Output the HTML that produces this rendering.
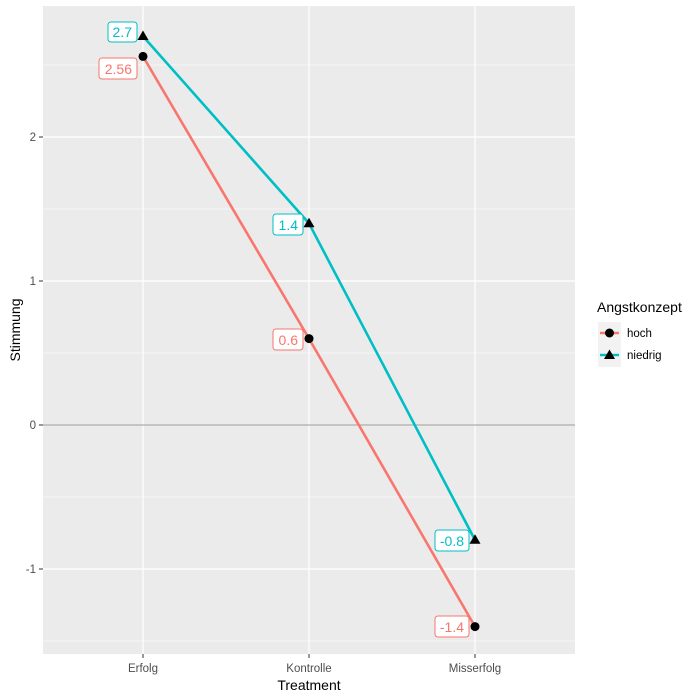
<!DOCTYPE html>
<html><head><style>body{margin:0;background:#fff}svg{display:block}</style></head><body>
<svg width="700" height="700" xmlns="http://www.w3.org/2000/svg" font-family="Liberation Sans, sans-serif">
<rect x="43" y="6" width="532" height="648" fill="#EBEBEB"/>
<g stroke="#fff" stroke-width="0.6">
<line x1="43" x2="575" y1="65" y2="65"/><line x1="43" x2="575" y1="209" y2="209"/><line x1="43" x2="575" y1="353" y2="353"/><line x1="43" x2="575" y1="497" y2="497"/><line x1="43" x2="575" y1="641" y2="641"/>
</g>
<g stroke="#fff" stroke-width="1.2">
<line x1="43" x2="575" y1="137" y2="137"/><line x1="43" x2="575" y1="281" y2="281"/><line x1="43" x2="575" y1="425" y2="425"/><line x1="43" x2="575" y1="569" y2="569"/>
<line y1="6" y2="654" x1="143" x2="143"/><line y1="6" y2="654" x1="309" x2="309"/><line y1="6" y2="654" x1="475" x2="475"/>
</g>
<line x1="43" x2="575" y1="425" y2="425" stroke="#999" stroke-width="1"/>
<polyline points="143,56.4 309,338.6 475,626.6" fill="none" stroke="#F8766D" stroke-width="2.6"/>
<polyline points="143,36.2 309,223.4 475,540" fill="none" stroke="#00BFC4" stroke-width="2.6"/>
<circle cx="143" cy="56.4" r="4.5"/><circle cx="309" cy="338.6" r="4.5"/><circle cx="475" cy="626.6" r="4.5"/>
<polygon points="143,30.5 137.5,40 148.5,40"/><polygon points="309,217.7 303.5,227.2 314.5,227.2"/><polygon points="475,534.3 469.5,543.8 480.5,543.8"/>
<g font-size="14" text-anchor="end">
<rect x="108" y="22" width="29" height="20" rx="3" fill="#fff" stroke="#00BFC4"/><text x="132" y="37" fill="#00BFC4">2.7</text>
<rect x="99" y="58" width="38" height="21" rx="3" fill="#fff" stroke="#F8766D"/><text x="132" y="74" fill="#F8766D">2.56</text>
<rect x="273" y="214" width="30" height="21" rx="3" fill="#fff" stroke="#00BFC4"/><text x="298" y="230" fill="#00BFC4">1.4</text>
<rect x="273" y="329" width="30" height="21" rx="3" fill="#fff" stroke="#F8766D"/><text x="298" y="345" fill="#F8766D">0.6</text>
<rect x="435" y="530" width="34" height="21" rx="3" fill="#fff" stroke="#00BFC4"/><text x="464" y="546" fill="#00BFC4">-0.8</text>
<rect x="435" y="616" width="34" height="21" rx="3" fill="#fff" stroke="#F8766D"/><text x="464" y="632" fill="#F8766D">-1.4</text>
</g>
<g font-size="11.5" fill="#4D4D4D" text-anchor="end">
<text x="36" y="141">2</text><text x="36" y="285">1</text><text x="36" y="429">0</text><text x="36" y="573">-1</text>
</g>
<g stroke="#333"><line x1="39" x2="43" y1="137" y2="137"/><line x1="39" x2="43" y1="281" y2="281"/><line x1="39" x2="43" y1="425" y2="425"/><line x1="39" x2="43" y1="569" y2="569"/>
<line x1="143" x2="143" y1="654" y2="658"/><line x1="309" x2="309" y1="654" y2="658"/><line x1="475" x2="475" y1="654" y2="658"/></g>
<g font-size="11.5" fill="#4D4D4D" text-anchor="middle">
<text x="143" y="672">Erfolg</text><text x="309" y="672">Kontrolle</text><text x="475" y="672">Misserfolg</text>
</g>
<text x="309" y="690" font-size="14" text-anchor="middle">Treatment</text>
<text transform="translate(20,330) rotate(-90)" font-size="14" text-anchor="middle">Stimmung</text>
<text x="597" y="312" font-size="14">Angstkonzept</text>
<rect x="598" y="322" width="23" height="45" fill="#F2F2F2"/>
<line x1="600" x2="619" y1="333" y2="333" stroke="#F8766D" stroke-width="2.6"/><circle cx="609.5" cy="333" r="4.5"/>
<line x1="600" x2="619" y1="355" y2="355" stroke="#00BFC4" stroke-width="2.6"/><polygon points="609.5,349.5 604,359 615,359"/>
<text x="627" y="337" font-size="11.5">hoch</text><text x="627" y="359" font-size="11.5">niedrig</text>
</svg>
</body></html>
